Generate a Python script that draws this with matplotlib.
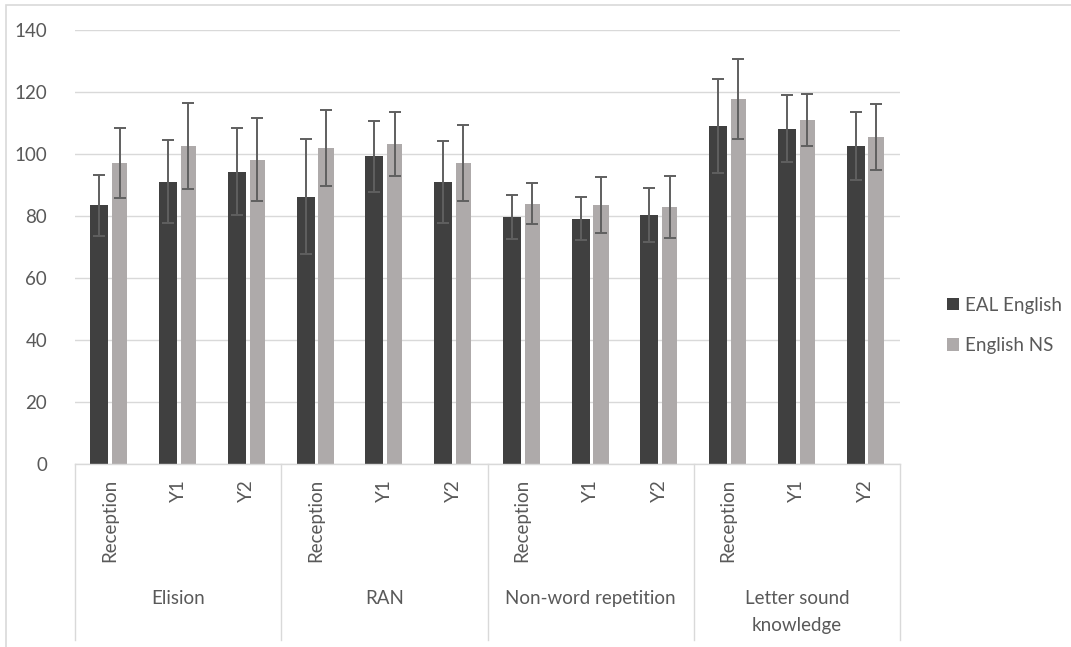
import numpy as np
import matplotlib.pyplot as plt
from matplotlib.transforms import blended_transform_factory

plt.rcParams['font.family'] = ['Lato', 'DejaVu Sans']

# measures and year groups
measures = ['Elision', 'RAN', 'Non-word repetition', 'Letter sound\nknowledge']
years = ['Reception', 'Y1', 'Y2']

# mean standard scores and SDs, ordered measure by measure, year by year
eal_mean = [83.4, 91.0, 94.3, 86.2, 99.2, 91.0, 79.7, 79.1, 80.3, 109.0, 108.2, 102.6]
eal_sd = [9.8, 13.4, 14.0, 18.6, 11.4, 13.2, 7.0, 6.9, 8.6, 15.2, 10.8, 11.1]
ns_mean = [97.1, 102.6, 98.2, 102.0, 103.3, 97.2, 84.0, 83.5, 83.0, 117.9, 111.0, 105.5]
ns_sd = [11.2, 14.0, 13.5, 12.2, 10.3, 12.3, 6.7, 9.0, 10.0, 12.9, 8.5, 10.6]

text_col = '#595959'
line_col = '#d9d9d9'
fs = 13.5

fig = plt.figure(figsize=(10.71, 6.47), dpi=100)
ax = fig.add_axes([75 / 1071, 1 - 464 / 647, 825 / 1071, 434 / 647])

x = np.arange(len(eal_mean))
err_kw = dict(ecolor='#5f5f5f', elinewidth=1.4, capsize=4.5, capthick=1.4)
ax.bar(x - 0.145, eal_mean, width=0.26, color='#404040', yerr=eal_sd,
       error_kw=err_kw, label='EAL English', zorder=2)
ax.bar(x + 0.15, ns_mean, width=0.22, color='#aeaaaa', yerr=ns_sd,
       error_kw=err_kw, label='English NS', zorder=2)

ax.set_xlim(-0.5, len(x) - 0.5)
ax.set_ylim(0, 140)
ax.set_yticks(range(0, 141, 20))
ax.yaxis.grid(True, color=line_col, linewidth=1)
ax.set_axisbelow(True)
ax.set_xticks([])
ax.tick_params(axis='y', length=0, pad=20, labelsize=fs, labelcolor=text_col)
for side in ['top', 'right', 'left']:
    ax.spines[side].set_visible(False)
ax.spines['bottom'].set_color(line_col)
ax.spines['bottom'].set_linewidth(1)

# two-level category axis under the plot
tr = blended_transform_factory(ax.transData, ax.transAxes)
for i in range(len(x)):
    ax.text(i, -0.035, years[i % 3], transform=tr, rotation=90, ha='center',
            va='top', fontsize=fs, color=text_col)
for g, name in enumerate(measures):
    ax.text(3 * g + 1, -0.29, name, transform=tr, ha='center', va='top',
            fontsize=fs, color=text_col, linespacing=1.75)
for b in np.arange(-0.5, len(x), 3):
    ax.plot([b, b], [0, -0.405], transform=tr, color=line_col, linewidth=1,
            clip_on=False)

fig.legend(loc='center left', bbox_to_anchor=(0.868, 0.497), frameon=False,
           fontsize=fs, labelcolor=text_col, handlelength=0.65, handleheight=0.65,
           handletextpad=0.35, labelspacing=1.25)

# outer chart border
fig.patches.append(plt.Rectangle((6 / 1071, -0.1), 1.2, 1 - 5 / 647 + 0.1,
                                 transform=fig.transFigure, fill=False,
                                 edgecolor=line_col, linewidth=1.2))

fig.savefig('out.png', dpi=100)
